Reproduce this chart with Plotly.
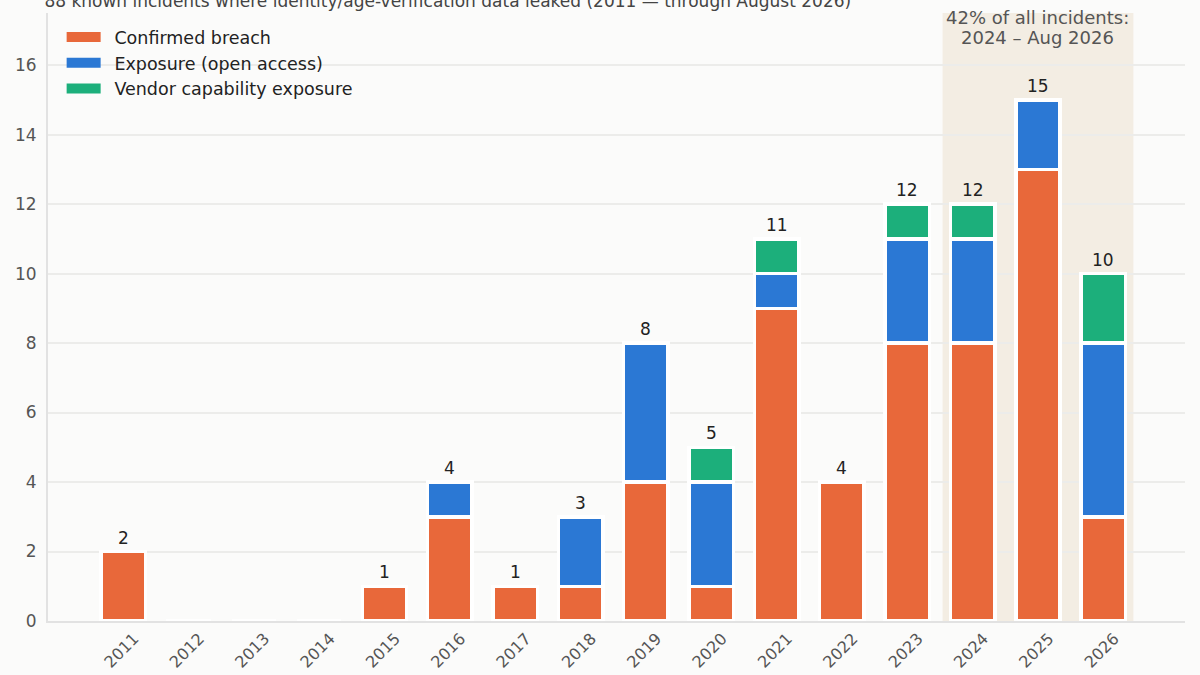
import plotly.graph_objects as go

years = list(range(2011, 2027))
confirmed = [2, 0, 0, 0, 1, 3, 1, 1, 4, 1, 9, 4, 8, 8, 13, 3]
exposure = [0, 0, 0, 0, 0, 1, 0, 2, 4, 3, 1, 0, 3, 3, 2, 5]
vendor = [0, 0, 0, 0, 0, 0, 0, 0, 0, 1, 1, 0, 1, 1, 0, 2]
series_names = ["Confirmed breach", "Exposure (open access)", "Vendor capability exposure"]
series_colors = ["#e8683a", "#2b78d4", "#1caf7b"]

totals = [a + b + c for a, b, c in zip(confirmed, exposure, vendor)]
title_text = "88 known incidents where identity/age-verification data leaked (2011 \u2014 through August 2026)"
note_lines = ["42% of all incidents:", "2024 \u2013 Aug 2026"]

fig = go.Figure()

for name, vals, col in zip(series_names, [confirmed, exposure, vendor], series_colors):
    fig.add_trace(go.Bar(
        x=years, y=vals, name=name, marker_color=col,
        marker_line=dict(color="white", width=3.5),
        width=0.68, showlegend=False, legendgroup=name,
        hovertemplate="%{x}: %{y}<extra>" + name + "</extra>",
    ))
    # wide swatch for legend
    fig.add_trace(go.Scatter(
        x=[None], y=[None], mode="lines", name="\u2002" + name, legendgroup=name,
        line=dict(color=col, width=10),
    ))

# totals on top (skip empty years)
for yr, t in zip(years, totals):
    if t > 0:
        fig.add_annotation(x=yr, y=t, text=str(t), showarrow=False,
                           yanchor="bottom", yshift=2,
                           font=dict(size=17, color="#222"))

fig.add_shape(type="rect", xref="x", yref="paper", x0=2023.54, x1=2026.46,
              y0=0, y1=1, fillcolor="#f3ede3", line_width=0, layer="below")
for i, line in enumerate(note_lines):
    fig.add_annotation(x=2025, xref="x", y=1, yref="paper", yanchor="middle",
                       yshift=-4 - 20 * i, text=line, showarrow=False,
                       font=dict(size=18, color="#555"))

fig.update_layout(
    width=1200, height=675,
    barmode="stack",
    paper_bgcolor="#fbfbfa", plot_bgcolor="#fbfbfa",
    font=dict(family="DejaVu Sans", size=16, color="#444"),
    margin=dict(l=48, r=15, t=13, b=54),
    title=dict(text=title_text, x=0.037, xanchor="left", y=0.998, yref="container",
               yanchor="middle", font=dict(size=17, color="#444")),
    legend=dict(x=0.012, y=0.99, xanchor="left", yanchor="top",
                bgcolor="rgba(0,0,0,0)", font=dict(size=17.5, color="#222"),
                itemwidth=34, tracegroupgap=0),
)
fig.update_xaxes(range=[2009.85, 2027.25], tickmode="array", tickvals=years,
                 ticktext=[str(y) for y in years], tickangle=-45,
                 tickfont=dict(size=16, color="#555"), showgrid=False,
                 showline=True, linecolor="#e2e2e2", linewidth=2, zeroline=False,
                 ticklabelshift=11, automargin=False)
fig.update_yaxes(range=[0, 17.5], dtick=2, tickfont=dict(size=17, color="#555"),
                 gridcolor="#ececea", gridwidth=1.5, showline=True,
                 linecolor="#e2e2e2", linewidth=2, zeroline=False, ticks="",
                 ticklabelstandoff=6, automargin=False)

fig.write_html("out.html", config={"displayModeBar": False},
               post_script="document.body.style.margin='0';")
